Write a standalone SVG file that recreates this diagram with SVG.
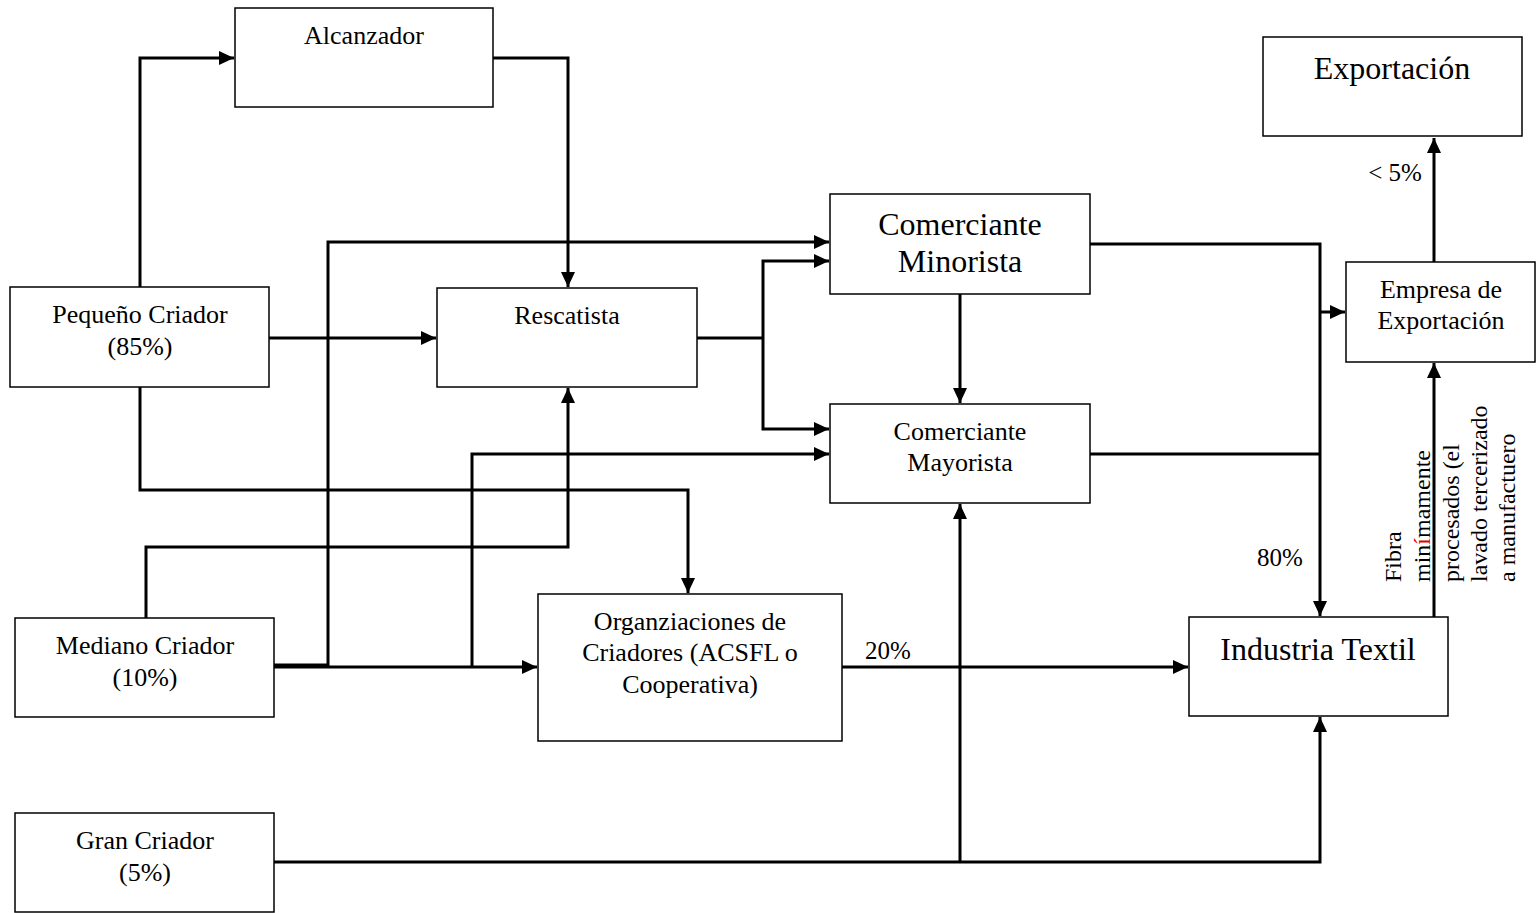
<svg xmlns="http://www.w3.org/2000/svg" width="1536" height="913" viewBox="0 0 1536 913">
<style>
.box{fill:#fff;stroke:#000;stroke-width:1.5}
.t{font-family:"Liberation Serif","Times New Roman",serif;font-size:26px;fill:#000;text-anchor:middle}
.big{font-size:32px}
.lbl{font-family:"Liberation Serif","Times New Roman",serif;font-size:25px;fill:#000;text-anchor:middle}
.rot{font-family:"Liberation Serif","Times New Roman",serif;font-size:24px;fill:#000}
.c{fill:none;stroke:#000;stroke-width:3}
</style>
<defs>
<marker id="ah" markerUnits="userSpaceOnUse" markerWidth="16" markerHeight="16" viewBox="0 0 16 16" refX="15" refY="8" orient="auto">
<path d="M0,1 L15,8 L0,15 Z" fill="#000"/>
</marker>
</defs>
<rect width="1536" height="913" fill="#fff"/>
<g id="connectors">
<path class="c" d="M140,287 V58 H234" marker-end="url(#ah)"/>
<path class="c" d="M493,58 H568 V287" marker-end="url(#ah)"/>
<path class="c" d="M269,338 H436" marker-end="url(#ah)"/>
<path class="c" d="M140,387 V490 H688 V593" marker-end="url(#ah)"/>
<path class="c" d="M274,665 H328 V242 H829" marker-end="url(#ah)"/>
<path class="c" d="M274,667 H537" marker-end="url(#ah)"/>
<path class="c" d="M472,667 V454 H829" marker-end="url(#ah)"/>
<path class="c" d="M146,618 V547 H568 V388" marker-end="url(#ah)"/>
<path class="c" d="M697,338 H763"/>
<path class="c" d="M763,338 V261 H829" marker-end="url(#ah)"/>
<path class="c" d="M763,338 V429 H829" marker-end="url(#ah)"/>
<path class="c" d="M960,294 V403" marker-end="url(#ah)"/>
<path class="c" d="M1090,244 H1320 V616" marker-end="url(#ah)"/>
<path class="c" d="M1320,312 H1345" marker-end="url(#ah)"/>
<path class="c" d="M1090,454 H1320"/>
<path class="c" d="M274,862 H1320 V717" marker-end="url(#ah)"/>
<path class="c" d="M960,862 V504" marker-end="url(#ah)"/>
<path class="c" d="M842,667 H1188" marker-end="url(#ah)"/>
<path class="c" d="M1434,617 V363" marker-end="url(#ah)"/>
<path class="c" d="M1434,262 V138" marker-end="url(#ah)"/>
</g>
<g id="labels">
<text class="lbl" x="1280" y="566">80%</text>
<text class="lbl" x="888" y="659">20%</text>
<text class="lbl" x="1395" y="181">&lt; 5%</text>
<text class="rot" transform="translate(1401,582) rotate(-90)">Fibra</text>
<text class="rot" transform="translate(1430,582) rotate(-90)">min<tspan fill="#e00000">í</tspan>mamente</text>
<text class="rot" transform="translate(1459,582) rotate(-90)">procesados (el</text>
<text class="rot" transform="translate(1487,582) rotate(-90)">lavado tercerizado</text>
<text class="rot" transform="translate(1515,582) rotate(-90)">a manufactuero</text>
</g>
<g id="alcanzador"><rect class="box" x="235" y="8" width="258" height="99"/><text class="t" x="364" y="44">Alcanzador</text></g>
<g id="exportacion"><rect class="box" x="1263" y="37" width="259" height="99"/><text class="t big" x="1392" y="79">Exportación</text></g>
<g id="pequeno"><rect class="box" x="10" y="287" width="259" height="100"/><text class="t" x="140" y="323">Pequeño Criador</text><text class="t" x="140" y="355">(85%)</text></g>
<g id="rescatista"><rect class="box" x="437" y="288" width="260" height="99"/><text class="t" x="567" y="324">Rescatista</text></g>
<g id="minorista"><rect class="box" x="830" y="194" width="260" height="100"/><text class="t big" x="960" y="235">Comerciante</text><text class="t big" x="960" y="272">Minorista</text></g>
<g id="mayorista"><rect class="box" x="830" y="404" width="260" height="99"/><text class="t" x="960" y="440">Comerciante</text><text class="t" x="960" y="471">Mayorista</text></g>
<g id="empresa"><rect class="box" x="1346" y="262" width="189" height="100"/><text class="t" x="1441" y="298">Empresa de</text><text class="t" x="1441" y="329">Exportación</text></g>
<g id="organizaciones"><rect class="box" x="538" y="594" width="304" height="147"/><text class="t" x="690" y="630">Organziaciones de</text><text class="t" x="690" y="661">Criadores (ACSFL o</text><text class="t" x="690" y="693">Cooperativa)</text></g>
<g id="mediano"><rect class="box" x="15" y="618" width="259" height="99"/><text class="t" x="145" y="654">Mediano Criador</text><text class="t" x="145" y="686">(10%)</text></g>
<g id="industria"><rect class="box" x="1189" y="617" width="259" height="99"/><text class="t big" x="1318" y="660">Industria Textil</text></g>
<g id="gran"><rect class="box" x="15" y="813" width="259" height="99"/><text class="t" x="145" y="849">Gran Criador</text><text class="t" x="145" y="881">(5%)</text></g>
</svg>
